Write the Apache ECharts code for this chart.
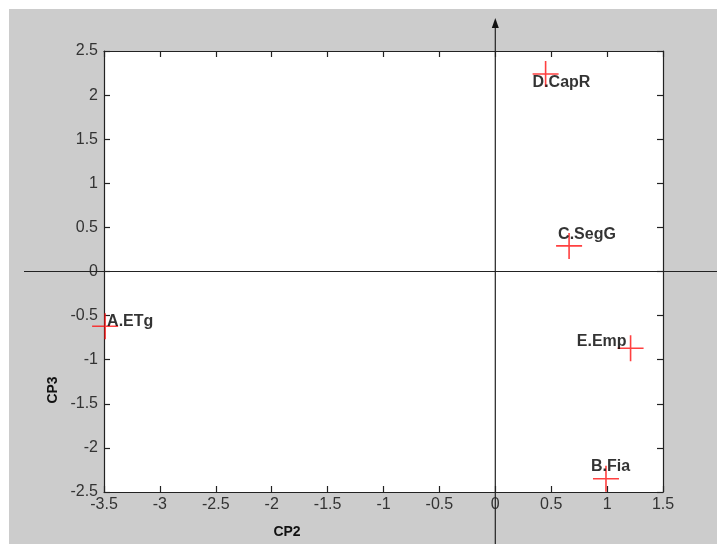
<!DOCTYPE html>
<html>
<head>
<meta charset="utf-8">
<script src="https://cdn.jsdelivr.net/npm/echarts@6/dist/echarts.min.js"></script>
<style>
  html, body { margin: 0; padding: 0; background: #ffffff; }
  #chart { position: absolute; left: 9px; top: 9px; width: 708px; height: 535px; }
</style>
</head>
<body>
<div id="chart"></div>
<script>
// Component scores on CP2 (x) and CP3 (y)
const names = ['A.ETg', 'B.Fia', 'C.SegG', 'D.CapR', 'E.Emp'];
const cp2 = [-3.49, 0.99, 0.66, 0.45, 1.21];
const cp3 = [-0.62, -2.35, 0.29, 2.24, -0.87];

const xTicks = [-3.5, -3, -2.5, -2, -1.5, -1, -0.5, 0, 0.5, 1, 1.5];
const yTicks = [-2.5, -2, -1.5, -1, -0.5, 0, 0.5, 1, 1.5, 2, 2.5];
const xTitle = 'CP2';
const yTitle = 'CP3';

// where each point's name sits relative to its cross
const labelPlacement = {
  'A.ETg': { align: 'left', offset: [2, -5] },
  'B.Fia': { align: 'left', offset: [-15, -12] },
  'C.SegG': { align: 'left', offset: [-11, -11] },
  'D.CapR': { align: 'left', offset: [-13, 9] },
  'E.Emp': { align: 'right', offset: [-4, -7] }
};

const FONT = 'Liberation Sans, Arial, sans-serif';
const tickFont = { color: '#333', fontSize: 16, fontFamily: FONT };
const axisLineStyle = { color: '#222', width: 1.2 };

const plus = 'path://M12.2,0h1.6v26h-1.6z M0,12.2h26v1.6h-26z';

const points = names.map((n, i) => ({
  name: n,
  value: [cp2[i], cp3[i]],
  label: {
    show: true,
    formatter: n,
    position: 'inside',
    align: labelPlacement[n].align,
    verticalAlign: 'middle',
    offset: labelPlacement[n].offset
  }
}));

function axisBase(extra) {
  return Object.assign({
    type: 'value',
    interval: 0.5,
    axisLine: { show: true, onZero: false, lineStyle: axisLineStyle },
    axisTick: { show: true, inside: true, length: 6, lineStyle: axisLineStyle },
    splitLine: { show: false }
  }, extra);
}

const chart = echarts.init(document.getElementById('chart'));
chart.setOption({
  backgroundColor: '#cccccc',
  animation: false,
  grid: { left: 95, top: 42, right: 54, bottom: 52, show: true, backgroundColor: '#ffffff', borderWidth: 0 },
  xAxis: [
    axisBase({
      min: xTicks[0], max: xTicks[xTicks.length - 1], position: 'bottom',
      axisLabel: Object.assign({ margin: 5, formatter: v => String(v) }, tickFont)
    }),
    axisBase({ min: xTicks[0], max: xTicks[xTicks.length - 1], position: 'top', axisLabel: { show: false } })
  ],
  yAxis: [
    axisBase({
      min: yTicks[0], max: yTicks[yTicks.length - 1], position: 'left',
      axisLabel: Object.assign({ margin: 6, formatter: v => String(v) }, tickFont)
    }),
    axisBase({ min: yTicks[0], max: yTicks[yTicks.length - 1], position: 'right', axisLabel: { show: false } })
  ],
  series: [{
    type: 'scatter',
    xAxisIndex: 0,
    yAxisIndex: 0,
    symbol: plus,
    symbolSize: 26,
    itemStyle: { color: '#ff1010' },
    label: {
      color: '#000',
      fontSize: 16,
      fontWeight: 'bold',
      fontFamily: FONT,
      textBorderWidth: 0
    },
    data: points,
    z: 5
  }]
});

// Zero reference lines crossing the whole figure, with an arrowhead on the vertical one
const origin = chart.convertToPixel({ xAxisIndex: 0, yAxisIndex: 0 }, [0, 0]);
const W = chart.getWidth(), H = chart.getHeight();
const titleStyle = { fill: '#111', fontSize: 14, fontWeight: 'bold', fontFamily: FONT, align: 'center', verticalAlign: 'middle' };
chart.setOption({
  graphic: [
    { type: 'line', shape: { x1: 15, y1: origin[1], x2: W, y2: origin[1] }, style: { stroke: '#222', lineWidth: 1.2 }, z: 10 },
    { type: 'line', shape: { x1: origin[0], y1: 14, x2: origin[0], y2: H }, style: { stroke: '#222', lineWidth: 1.2 }, z: 10 },
    { type: 'polygon', shape: { points: [[origin[0], 9], [origin[0] - 3.5, 19], [origin[0] + 3.5, 19]] }, style: { fill: '#111' }, z: 10 },
    // axis titles
    { type: 'text', x: 278, y: 523, style: Object.assign({ text: xTitle }, titleStyle), z: 10 },
    { type: 'text', x: 44, y: 381, rotation: Math.PI / 2, style: Object.assign({ text: yTitle }, titleStyle), z: 10 }
  ]
});
</script>
</body>
</html>
